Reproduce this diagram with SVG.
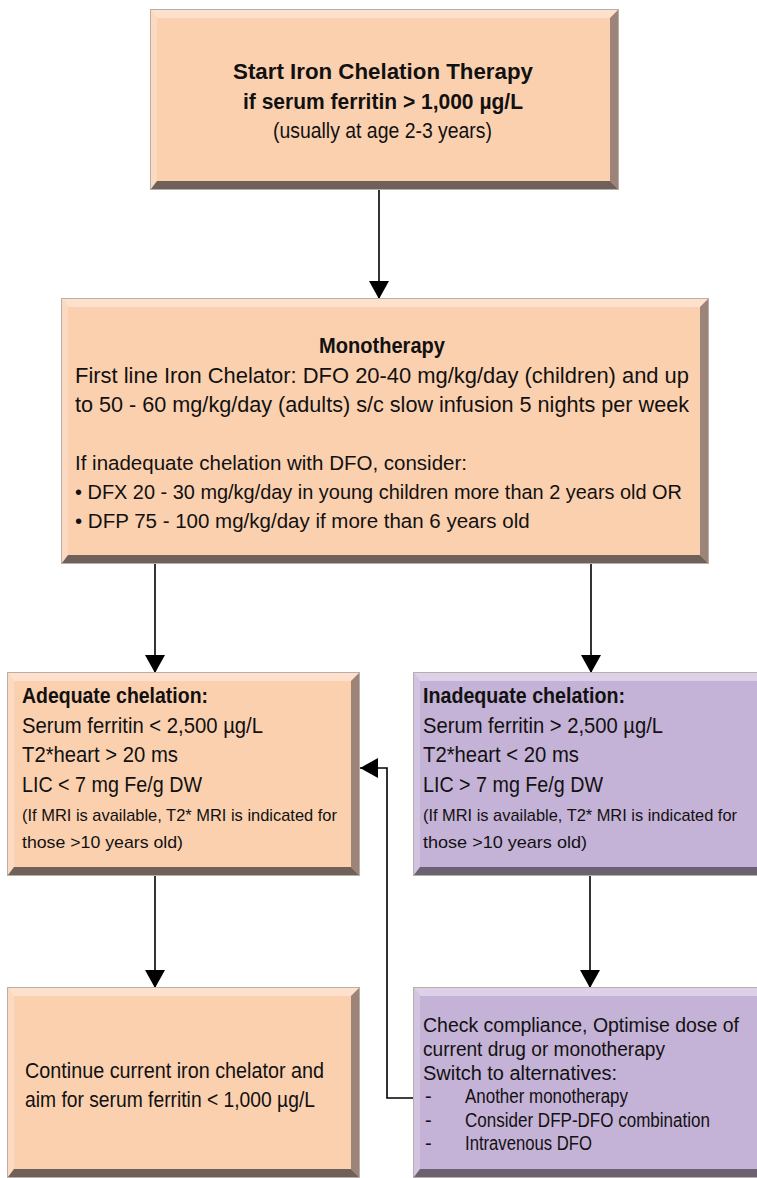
<svg xmlns="http://www.w3.org/2000/svg" width="757" height="1178" viewBox="0 0 757 1178">
<style>
.pm{fill:#FBD0AF}
.pt{fill:#FDE1CD}
.pl{fill:#FCD9C1}
.pr{fill:#9C8478}
.pb{fill:#6F6059}
.vm{fill:#C5B2D7}
.vt{fill:#DDD1E8}
.vl{fill:#D2C4E1}
.vr{fill:#877C91}
.vb{fill:#6B6271}
.edge{fill:none;stroke:#B9AFAA;stroke-width:1}
text{font-family:"Liberation Sans",Arial,Helvetica,sans-serif;fill:#111}
.b{font-weight:bold}
.t22{font-size:22.5px}
.t21{font-size:21.5px}
.t20{font-size:20.5px}
.t19{font-size:20px}
.t16{font-size:17px}
.conn{fill:none;stroke:#000;stroke-width:1.6}
</style>
<defs>
<marker id="ah" viewBox="0 0 18 20" refX="18" refY="10" markerWidth="18" markerHeight="20" markerUnits="userSpaceOnUse" orient="auto">
<path d="M0,0 L18,10 L0,20 z" fill="#000"/>
</marker>
</defs>

<g id="connectors">
<line class="conn" x1="379" y1="189" x2="379" y2="299" marker-end="url(#ah)"/>
<line class="conn" x1="155" y1="563" x2="155" y2="673" marker-end="url(#ah)"/>
<line class="conn" x1="591" y1="563" x2="591" y2="673" marker-end="url(#ah)"/>
<line class="conn" x1="155" y1="875" x2="155" y2="988" marker-end="url(#ah)"/>
<line class="conn" x1="590" y1="875" x2="590" y2="988" marker-end="url(#ah)"/>
<polyline class="conn" points="414,1098 387,1098 387,768 360,768" marker-end="url(#ah)"/>
</g>

<g id="start">
<rect class="pm" x="151" y="10" width="467" height="179"/>
<polygon class="pt" points="151,10 618,10 610,18 157,18"/>
<polygon class="pl" points="151,10 157,18 157,181 151,189"/>
<polygon class="pr" points="618,10 618,189 610,181 610,18"/>
<polygon class="pb" points="151,189 157,181 610,181 618,189"/>
<rect class="edge" x="150.5" y="9.5" width="468" height="180"/>
<text class="b t22" x="233" y="79" textLength="300" lengthAdjust="spacingAndGlyphs">Start Iron Chelation Therapy</text>
<text class="b t22" x="243" y="109" textLength="280" lengthAdjust="spacingAndGlyphs">if serum ferritin &gt; 1,000 µg/L</text>
<text class="t21" x="273" y="138" textLength="219" lengthAdjust="spacingAndGlyphs">(usually at age 2-3 years)</text>
</g>

<g id="monotherapy">
<rect class="pm" x="62" y="299" width="646" height="264"/>
<polygon class="pt" points="62,299 708,299 700,307 68,307"/>
<polygon class="pl" points="62,299 68,307 68,555 62,563"/>
<polygon class="pr" points="708,299 708,563 700,555 700,307"/>
<polygon class="pb" points="62,563 68,555 700,555 708,563"/>
<rect class="edge" x="61.5" y="298.5" width="647" height="265"/>
<text class="b t21" x="319" y="353" textLength="126" lengthAdjust="spacingAndGlyphs">Monotherapy</text>
<text class="t21" x="75" y="383" textLength="614" lengthAdjust="spacingAndGlyphs">First line Iron Chelator: DFO 20-40 mg/kg/day (children) and up</text>
<text class="t21" x="75" y="412" textLength="614" lengthAdjust="spacingAndGlyphs">to 50 - 60 mg/kg/day (adults) s/c slow infusion 5 nights per week</text>
<text class="t20" x="75" y="470">If inadequate chelation with DFO, consider:</text>
<text class="t20" x="75" y="499" textLength="607" lengthAdjust="spacingAndGlyphs">• DFX 20 - 30 mg/kg/day in young children more than 2 years old OR</text>
<text class="t20" x="75" y="528">• DFP 75 - 100 mg/kg/day if more than 6 years old</text>
</g>

<g id="adequate">
<rect class="pm" x="8" y="673" width="351" height="202"/>
<polygon class="pt" points="8,673 359,673 351,681 14,681"/>
<polygon class="pl" points="8,673 14,681 14,867 8,875"/>
<polygon class="pr" points="359,673 359,875 351,867 351,681"/>
<polygon class="pb" points="8,875 14,867 351,867 359,875"/>
<rect class="edge" x="7.5" y="672.5" width="352" height="203"/>
<text class="b t21" x="22" y="703" textLength="186" lengthAdjust="spacingAndGlyphs">Adequate chelation:</text>
<text class="t21" x="22" y="733" textLength="241" lengthAdjust="spacingAndGlyphs">Serum ferritin &lt; 2,500 µg/L</text>
<text class="t21" x="22" y="762" textLength="156" lengthAdjust="spacingAndGlyphs">T2*heart &gt; 20 ms</text>
<text class="t21" x="22" y="792" textLength="180" lengthAdjust="spacingAndGlyphs">LIC &lt; 7 mg Fe/g DW</text>
<text class="t16" x="22" y="821" textLength="315" lengthAdjust="spacingAndGlyphs">(If MRI is available, T2* MRI is indicated for</text>
<text class="t16" x="22" y="848" textLength="161" lengthAdjust="spacingAndGlyphs">those &gt;10 years old)</text>
</g>

<g id="inadequate">
<rect class="vm" x="414" y="673" width="351" height="202"/>
<polygon class="vt" points="414,673 765,673 757,681 420,681"/>
<polygon class="vl" points="414,673 420,681 420,867 414,875"/>
<polygon class="vr" points="765,673 765,875 757,867 757,681"/>
<polygon class="vb" points="414,875 420,867 757,867 765,875"/>
<rect class="edge" x="413.5" y="672.5" width="352" height="203"/>
<text class="b t21" x="423" y="703" textLength="202" lengthAdjust="spacingAndGlyphs">Inadequate chelation:</text>
<text class="t21" x="423" y="733" textLength="240" lengthAdjust="spacingAndGlyphs">Serum ferritin &gt; 2,500 µg/L</text>
<text class="t21" x="423" y="762" textLength="156" lengthAdjust="spacingAndGlyphs">T2*heart &lt; 20 ms</text>
<text class="t21" x="423" y="792" textLength="180" lengthAdjust="spacingAndGlyphs">LIC &gt; 7 mg Fe/g DW</text>
<text class="t16" x="423" y="821" textLength="314" lengthAdjust="spacingAndGlyphs">(If MRI is available, T2* MRI is indicated for</text>
<text class="t16" x="423" y="848" textLength="164" lengthAdjust="spacingAndGlyphs">those &gt;10 years old)</text>
</g>

<g id="continue">
<rect class="pm" x="8" y="988" width="351" height="189"/>
<polygon class="pt" points="8,988 359,988 351,996 14,996"/>
<polygon class="pl" points="8,988 14,996 14,1169 8,1177"/>
<polygon class="pr" points="359,988 359,1177 351,1169 351,996"/>
<polygon class="pb" points="8,1177 14,1169 351,1169 359,1177"/>
<rect class="edge" x="7.5" y="987.5" width="352" height="190"/>
<text class="t21" x="25" y="1078" textLength="299" lengthAdjust="spacingAndGlyphs">Continue current iron chelator and</text>
<text class="t21" x="25" y="1107" textLength="290" lengthAdjust="spacingAndGlyphs">aim for serum ferritin &lt; 1,000 µg/L</text>
</g>

<g id="switch">
<rect class="vm" x="414" y="988" width="351" height="189"/>
<polygon class="vt" points="414,988 765,988 757,996 420,996"/>
<polygon class="vl" points="414,988 420,996 420,1169 414,1177"/>
<polygon class="vr" points="765,988 765,1177 757,1169 757,996"/>
<polygon class="vb" points="414,1177 420,1169 757,1169 765,1177"/>
<rect class="edge" x="413.5" y="987.5" width="352" height="190"/>
<text class="t19" x="423" y="1032" textLength="316" lengthAdjust="spacingAndGlyphs">Check compliance, Optimise dose of</text>
<text class="t19" x="423" y="1056" textLength="242" lengthAdjust="spacingAndGlyphs">current drug or monotherapy</text>
<text class="t19" x="423" y="1080" textLength="194" lengthAdjust="spacingAndGlyphs">Switch to alternatives:</text>
<text class="t19" x="425" y="1103">-</text>
<text class="t19" x="465" y="1103" textLength="163" lengthAdjust="spacingAndGlyphs">Another monotherapy</text>
<text class="t19" x="425" y="1127">-</text>
<text class="t19" x="465" y="1127" textLength="245" lengthAdjust="spacingAndGlyphs">Consider DFP-DFO combination</text>
<text class="t19" x="425" y="1150">-</text>
<text class="t19" x="465" y="1150" textLength="127" lengthAdjust="spacingAndGlyphs">Intravenous DFO</text>
</g>
</svg>
